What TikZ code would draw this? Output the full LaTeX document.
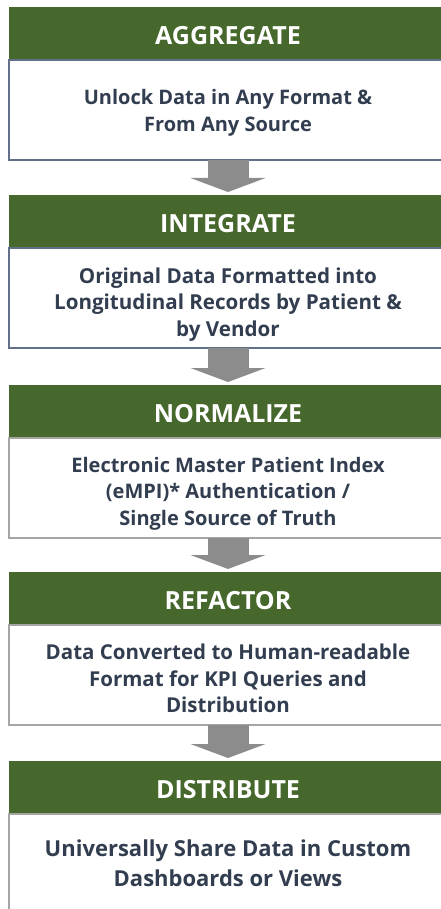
\documentclass[tikz,border=0pt]{standalone}
\usepackage{fontspec}
\setmainfont{Open Sans}
\usetikzlibrary{positioning}
\usetikzlibrary{arrows.meta}

\definecolor{stepgreen}{RGB}{70,104,44}
\definecolor{steptext}{RGB}{50,62,80}
\definecolor{stepblue}{RGB}{98,112,138}
\definecolor{stepgrey}{RGB}{165,165,165}
\definecolor{flowgrey}{RGB}{140,140,140}

\newcommand{\bodysize}[1]{\bfseries\fontsize{#1}{26.5}\selectfont}

\tikzset{
  stephead/.style={fill=stepgreen, text=white, font=\bfseries\fontsize{25}{30}\selectfont,
    text height=22pt, text depth=0pt,
    minimum width=438pt, minimum height=53pt, inner sep=0pt, outer sep=0pt},
  stepbody/.style={draw=#1, line width=1.5pt, fill=white, text=steptext,
    font=\bodysize{20}, align=center, text depth=5pt,
    minimum width=438pt, minimum height=100pt, inner sep=0pt, outer sep=0pt},
  flow/.style={draw=flowgrey, line width=41pt,
    -{Triangle[width=75pt,length=14pt,line width=0pt]}, shorten >=3pt}
}

\begin{document}
\begin{tikzpicture}
\useasboundingbox (0,0) rectangle (440pt,-909pt);

\node[stephead, anchor=north] (hdrA) at (228pt,-7pt) {AGGREGATE};
\node[stepbody=stepblue, text height=48pt, below=0pt of hdrA] (boxA) {Unlock Data in Any Format \&\\ From Any Source};

\node[stephead, below=35pt of boxA] (hdrB) {INTEGRATE};
\node[stepbody=stepblue, text height=81pt, font=\bodysize{20.6}, below=0pt of hdrB] (boxB) {Original Data Formatted into\\ Longitudinal Records by Patient \&\\ by Vendor};

\node[stephead, below=37pt of boxB] (hdrC) {NORMALIZE};
\node[stepbody=stepgrey, text height=79pt, below=0pt of hdrC] (boxC) {Electronic Master Patient Index\\ (eMPI)* Authentication /\\ Single Source of Truth};

\node[stephead, below=34pt of boxC] (hdrD) {REFACTOR};
\node[stepbody=stepgrey, text height=80pt, font=\bodysize{20.5}, below=0pt of hdrD] (boxD) {Data Converted to Human-readable\\ Format for KPI Queries and\\ Distribution};

\node[stephead, below=36pt of boxD] (hdrE) {DISTRIBUTE};
\node[stepbody=stepgrey, text depth=0pt, font=\bfseries\fontsize{22}{30}\selectfont, below=0pt of hdrE, minimum height=98pt] (boxE) {Universally Share Data in Custom\\ Dashboards or Views};

\draw[flow] (boxA.south) -- (hdrB.north);
\draw[flow] (boxB.south) -- (hdrC.north);
\draw[flow] (boxC.south) -- (hdrD.north);
\draw[flow] (boxD.south) -- (hdrE.north);
\end{tikzpicture}
\end{document}
